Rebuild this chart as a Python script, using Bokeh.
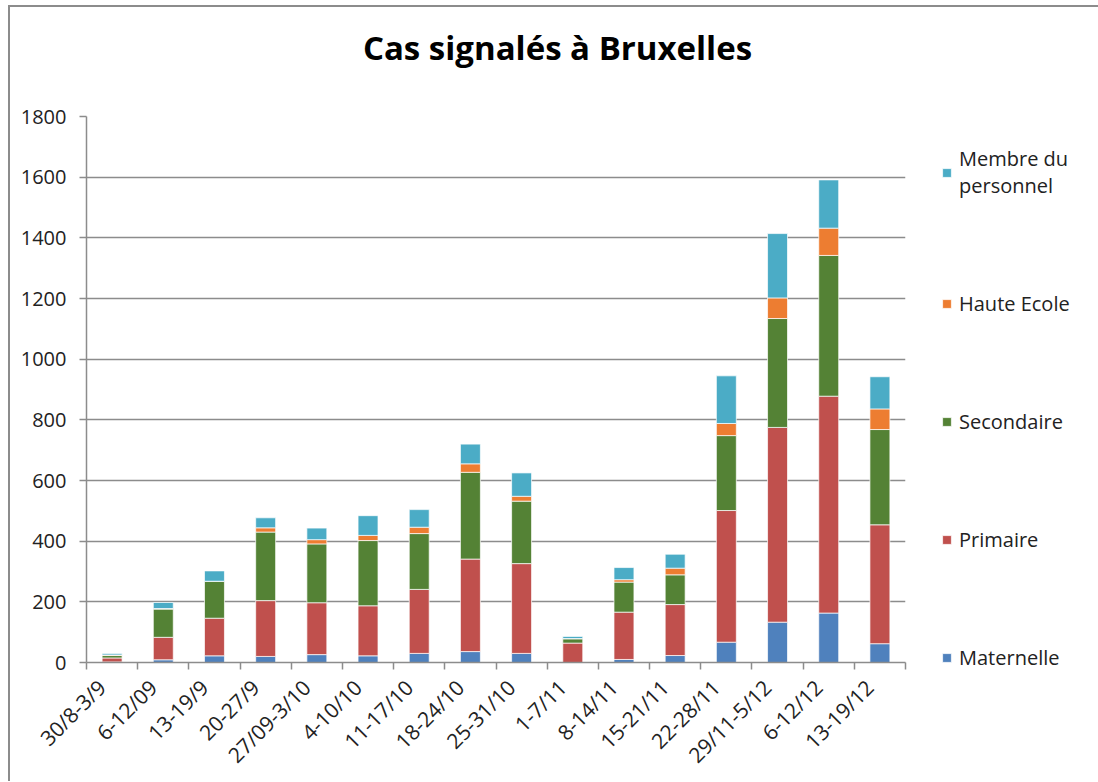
import math
import numpy as np
from bokeh.plotting import figure
from bokeh.models import ColumnDataSource, FixedTicker, Legend, LegendItem, Range1d, Label
from bokeh.embed import file_html
from bokeh.resources import INLINE

weeks = ["30/8-3/9", "6-12/09", "13-19/9", "20-27/9", "27/09-3/10", "4-10/10",
         "11-17/10", "18-24/10", "25-31/10", "1-7/11", "8-14/11", "15-21/11",
         "22-28/11", "29/11-5/12", "6-12/12", "13-19/12"]
maternelle = [2, 9, 22, 20, 26, 22, 30, 36, 30, 0, 10, 23, 67, 133, 163, 62]
primaire = [13, 74, 124, 184, 171, 165, 211, 305, 296, 64, 156, 168, 434, 642, 715, 392]
secondaire = [8, 93, 122, 226, 194, 215, 184, 286, 206, 14, 99, 98, 247, 359, 464, 314]
haute_ecole = [2, 2, 0, 14, 14, 17, 21, 28, 16, 1, 8, 22, 40, 68, 90, 68]
personnel = [5, 20, 34, 33, 38, 65, 58, 65, 77, 7, 40, 46, 157, 212, 159, 106]

series = ["maternelle", "primaire", "secondaire", "haute_ecole", "personnel"]
names = ["Maternelle", "Primaire", "Secondaire", "Haute Ecole", "Membre du\npersonnel"]
colors = ["#4F81BD", "#C0504D", "#548235", "#ED7D31", "#4BACC6"]
title_text = "Cas signalés à Bruxelles"

x = np.arange(len(weeks)) + 0.5
src = ColumnDataSource(dict(x=x, maternelle=maternelle, primaire=primaire,
                            secondaire=secondaire, haute_ecole=haute_ecole,
                            personnel=personnel))

FONT = "Open Sans"
p = figure(width=1088, height=770, output_backend="svg", toolbar_location=None,
           x_range=Range1d(0, len(weeks)), y_range=Range1d(0, 1800),
           min_border_left=76, min_border_top=109, min_border_right=193,
           min_border_bottom=115)
p.frame_width = 819
p.frame_height = 546

renderers = p.vbar_stack(series, x="x", width=0.39, source=src, color=colors,
                         line_color="white", line_width=1, line_alpha=0.7)

# title as a label in the top panel
title = Label(x=471, y=69, x_units="screen", y_units="screen", text=title_text,
              text_font=FONT, text_font_size="33px", text_font_style="bold",
              text_color="#000000", text_align="center", text_baseline="middle")
p.add_layout(title, "above")

# y axis
p.yaxis.ticker = FixedTicker(ticks=list(range(0, 1801, 200)))
p.yaxis.major_label_text_font = FONT
p.yaxis.major_label_text_font_size = "20px"
p.yaxis.major_label_text_color = "#222222"
p.yaxis.axis_line_color = "#8c8c8c"
p.yaxis.axis_line_width = 1.5
p.yaxis.major_tick_line_color = "#8c8c8c"
p.yaxis.major_tick_line_width = 1.5
p.yaxis.major_tick_out = 7
p.yaxis.major_tick_in = 0
p.yaxis.minor_tick_line_color = None
p.yaxis.major_label_standoff = 13

# x axis: labels near centers (rotated anchor compensated), ticks at boundaries
label_pos = [float(v) - 0.2 for v in x]
p.xaxis.ticker = FixedTicker(ticks=label_pos, minor_ticks=list(range(0, len(weeks) + 1)))
p.xaxis.major_label_overrides = {v: w for v, w in zip(label_pos, weeks)}
p.xaxis.major_label_orientation = math.pi / 4
p.xaxis.major_label_text_font = FONT
p.xaxis.major_label_text_font_size = "21px"
p.xaxis.major_label_text_color = "#222222"
p.xaxis.major_tick_line_color = None
p.xaxis.minor_tick_line_color = "#8c8c8c"
p.xaxis.minor_tick_line_width = 1.5
p.xaxis.minor_tick_out = 7
p.xaxis.minor_tick_in = 0
p.xaxis.axis_line_color = "#8c8c8c"
p.xaxis.axis_line_width = 1.5
p.xaxis.major_label_standoff = 14

p.xgrid.grid_line_color = None
p.ygrid.grid_line_color = "#8c8c8c"
p.ygrid.grid_line_width = 1.5
p.outline_line_color = None

items = [LegendItem(label=names[i], renderers=[renderers[i]]) for i in range(4, -1, -1)]
legend = Legend(items=items, location=(36, -9), orientation="vertical",
                label_text_font=FONT, label_text_font_size="20px",
                label_text_color="#222222", glyph_width=11, glyph_height=11,
                spacing=91, padding=4, margin=0, border_line_color=None,
                background_fill_alpha=0, label_standoff=7)
p.add_layout(legend, "right")

p.styles = {"border-left": "2px solid #8c8c8c", "border-top": "2px solid #8c8c8c",
            "margin-left": "8px", "margin-top": "5px"}

open("out.html", "w").write(file_html(p, INLINE))
